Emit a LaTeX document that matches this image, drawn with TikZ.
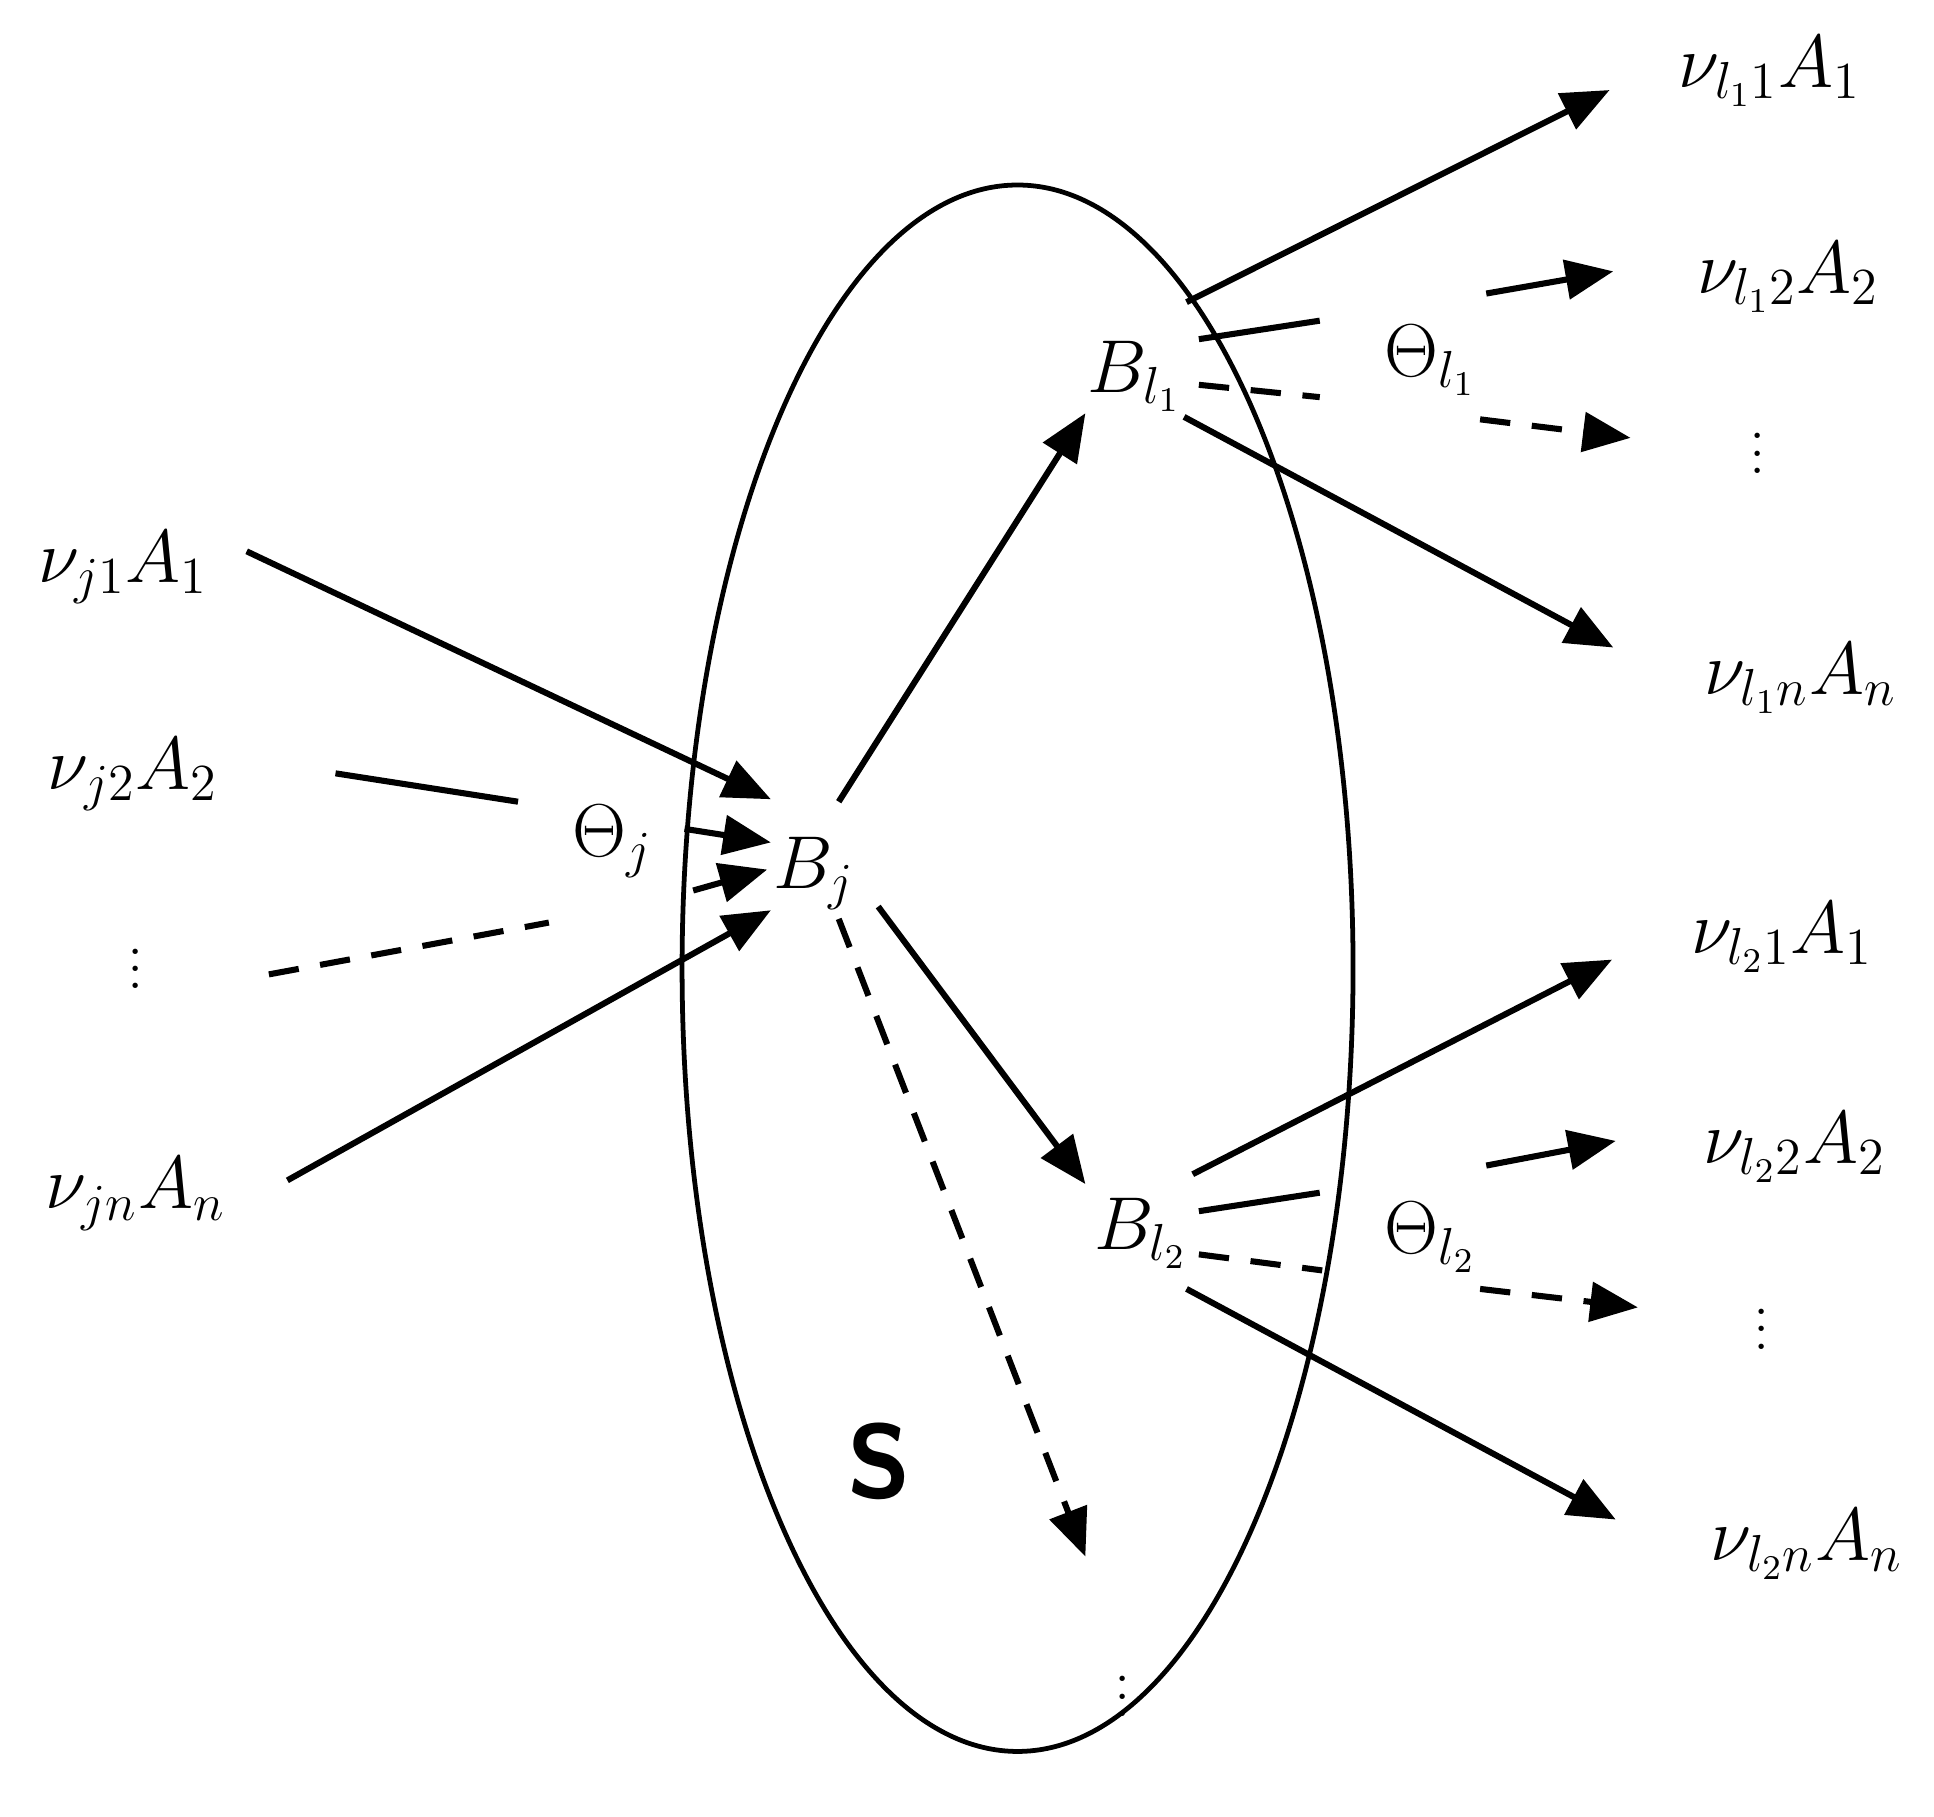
\documentclass[tikz,border=0pt]{standalone}
\usetikzlibrary{arrows.meta}
\begin{document}
\begin{tikzpicture}[x=0.01cm,y=-0.01cm,
  lab/.style={font=\fontsize{17}{20}\selectfont},
  dt/.style={font=\fontsize{15}{18}\selectfont,inner sep=0pt},
  ln/.style={line width=1.4pt},
  ar/.style={ln,-{Triangle[length=11pt,width=9pt]}},
  ds/.style={dash pattern=on 7pt off 5pt}]
\useasboundingbox (0,0) rectangle (1568,1473);
\draw[line width=1.1pt] (825,785) ellipse [x radius=272, y radius=635];
% labels
\node[lab] (vj1) at (100,460) {$\nu_{j1}A_1$};
\node[lab] (vj2) at (108,628) {$\nu_{j2}A_2$};
\node[dt] (vjd) at (110,775) {$\vdots$};
\node[lab] (vjn) at (110,968) {$\nu_{jn}A_n$};
\node[lab] (Tj) at (497,682) {$\Theta_j$};
\node[lab] (Bj) at (660,708) {$B_j$};
\node[lab] (Bl1) at (920,305) {$B_{l_1}$};
\node[lab] (Tl1) at (1160,292) {$\Theta_{l_1}$};
\node[lab] (Bl2) at (925,1000) {$B_{l_2}$};
\node[lab] (Tl2) at (1160,1003) {$\Theta_{l_2}$};
\node[font=\sffamily\bfseries\fontsize{24}{28}\selectfont] (S) at (713,1185) {S};
\node[dt] (sd) at (910,1365) {$\vdots$};
\node[lab] (r11) at (1435,58) {$\nu_{l_1 1}A_1$};
\node[lab] (r12) at (1450,225) {$\nu_{l_1 2}A_2$};
\node[dt] (r1d) at (1425,357) {$\vdots$};
\node[lab] (r1n) at (1460,550) {$\nu_{l_1 n}A_n$};
\node[lab] (r21) at (1445,760) {$\nu_{l_2 1}A_1$};
\node[lab] (r22) at (1455,930) {$\nu_{l_2 2}A_2$};
\node[dt] (r2d) at (1428,1067) {$\vdots$};
\node[lab] (r2n) at (1465,1252) {$\nu_{l_2 n}A_n$};
% left inputs
\draw[ar] (200,447) -- (625,648);
\draw[ln] (272,627) -- (420,650);
\draw[ar] (555,672) -- (625,683);
\draw[ln,ds] (218,790) -- (445,748);
\draw[ar,ds] (562,722) -- (622,705);
\draw[ar] (233,957) -- (625,738);
% from Bj
\draw[ar] (680,650) -- (880,335);
\draw[ar] (712,735) -- (880,960);
\draw[ar,ds] (680,745) -- (880,1262);
% from Bl1
\draw[ar] (962,245) -- (1305,73);
\draw[ln] (972,275) -- (1070,260);
\draw[ar] (1205,238) -- (1308,220);
\draw[ln,ds] (972,312) -- (1070,322);
\draw[ar,ds] (1200,340) -- (1322,355);
\draw[ar] (960,338) -- (1308,525);
% from Bl2
\draw[ar] (967,952) -- (1307,778);
\draw[ln] (972,982) -- (1070,967);
\draw[ar] (1205,945) -- (1310,925);
\draw[ln,ds] (972,1017) -- (1072,1030);
\draw[ar,ds] (1200,1045) -- (1328,1060);
\draw[ar] (962,1045) -- (1310,1232);
\end{tikzpicture}
\end{document}
